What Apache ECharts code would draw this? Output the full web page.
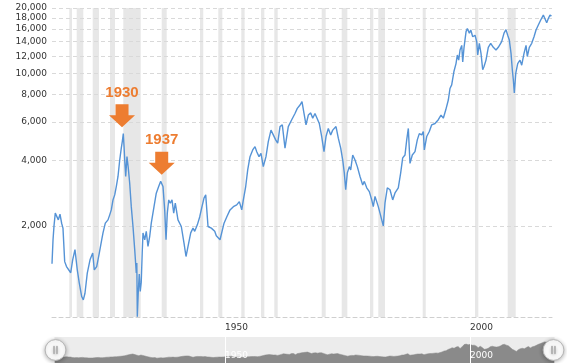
<!DOCTYPE html>
<html><head><meta charset="utf-8">
<script src="https://cdn.jsdelivr.net/npm/echarts@6/dist/echarts.min.js"></script>
<style>html,body{margin:0;padding:0;background:#fff}#chart{width:567px;height:363px}</style>
</head><body><div id="chart"></div>
<script>
// Inflation-adjusted Dow Jones
const years = [
1914.69,1914.9,1915.1,1915.36,1915.65,1915.98,1916.32,1916.67,1916.93,1917.28,1917.65,1918.02,1918.51,1918.91,1919.38,1919.85,
1920.26,1920.75,1921.08,1921.42,1921.89,1922.45,1923.0,1923.32,1923.81,1924.34,1924.83,1925.1,1925.57,1926.12,1926.47,1926.79,
1927.14,1927.49,1927.81,1928.16,1928.51,1928.83,1929.05,1929.24,1929.4,1929.53,1929.73,1929.99,1930.25,1930.55,1930.87,1931.22,
1931.57,1931.89,1932.0,1932.1,1932.3,1932.5,1932.7,1932.9,1933.1,1933.26,1933.61,1933.93,1934.28,1934.63,1934.95,1935.51,
1935.97,1936.46,1936.87,1937.34,1937.69,1937.96,1938.22,1938.51,1938.83,1939.18,1939.53,1939.85,1940.4,1941.08,1941.63,1942.04,
1942.45,1943.0,1943.47,1943.82,1944.35,1944.83,1945.3,1945.71,1946.06,1946.53,1947.2,1947.9,1948.22,1948.98,1949.33,1949.8,
1950.35,1951.02,1951.7,1952.39,1952.92,1953.41,1953.74,1954.22,1954.63,1955.1,1955.65,1956.12,1956.47,1956.94,1957.34,1957.81,
1958.36,1958.83,1959.38,1959.85,1960.34,1960.75,1961.22,1961.69,1962.24,1962.91,1963.61,1964.28,1964.75,1965.3,1965.71,1966.12,
1966.53,1967.0,1967.49,1967.9,1968.36,1968.71,1969.24,1969.73,1970.2,1970.61,1971.08,1971.57,1971.98,1972.65,1973.12,1973.61,
1974.02,1974.34,1974.63,1974.96,1975.37,1975.65,1976.06,1976.53,1977.0,1977.55,1978.1,1978.43,1978.92,1979.45,1979.94,1980.26,
1980.61,1980.96,1981.28,1981.63,1981.98,1982.3,1982.65,1983.12,1983.67,1984.22,1984.69,1985.36,1985.85,1986.26,1986.73,1987.08,
1987.41,1987.75,1988.22,1988.77,1989.24,1989.65,1990.14,1990.47,1990.67,1991.16,1991.69,1992.18,1992.85,1993.53,1994.08,1994.55,
1995.04,1995.57,1995.91,1996.26,1996.73,1997.14,1997.41,1997.69,1997.96,1998.31,1998.51,1998.78,1999.19,1999.45,1999.86,2000.15,
2000.55,2001.02,2001.37,2001.57,2001.9,2002.24,2002.59,2002.86,2003.26,2003.73,2004.22,2004.75,2005.3,2005.77,2006.46,2006.94,
2007.34,2007.69,2008.02,2008.37,2008.63,2008.84,2009.04,2009.33,2009.73,2010.2,2010.55,2011.02,2011.43,2011.69,2012.1,2012.59,
2013.06,2013.47,2013.94,2014.43,2014.96,2015.31,2015.65,2015.98,2016.32,2016.63
];
const realDow = [
1340,1726,2000,2287,2300,2130,2262,2050,1952,1370,1300,1326,1218,1396,1555,1256,
1092,947,915,981,1214,1396,1500,1256,1300,1500,1726,1856,2057,2130,2246,2367,
2631,2774,3030,3370,4012,4550,4900,5300,4600,4010,3370,4156,3700,3130,2450,1986,
1555,1214,1350,765,1000,1200,1000,1100,1500,1856,1726,1887,1609,1787,2057,2450,
2825,3030,3200,3030,2367,1726,2287,2630,2540,2630,2287,2540,2130,1986,1666,1446,
1609,1856,1952,1887,2021,2197,2450,2680,2774,1986,1952,1887,1800,1726,1694,2057,
2197,2367,2450,2496,2583,2367,2631,3030,3612,4156,4460,4620,4380,4156,4300,3740,
4156,4870,5500,5230,4960,4790,5710,5820,4550,5710,6140,6560,6920,7170,7430,6560,
5820,6450,6600,6240,6560,6600,5900,5140,4380,5140,5600,5230,5500,5710,5050,4550,
4010,3500,2930,3500,3740,3612,4230,4010,3740,3370,3080,3200,2990,2870,2630,2450,
2730,2774,2450,2287,2130,2000,2550,2990,2930,2630,2830,2990,3500,4100,4230,4960,
5600,3870,4230,4380,4960,5300,5230,5420,4460,5140,5420,5820,5900,6140,6450,6240,
6800,7560,8540,8870,10250,11110,12170,11530,12830,13470,11300,13200,15580,16100,15330,15840,
14760,15000,14010,12170,13770,12380,10410,10770,11530,13200,13770,13200,12830,13200,14010,15330,
15910,15000,14250,12380,10410,9340,8140,10010,11110,11530,10930,12380,13470,11980,13200,13770,
14760,15840,16710,17610,18560,18250,17100,17900,18560,18400
];
const yTicks = [2000, 4000, 6000, 8000, 10000, 12000, 14000, 16000, 18000, 20000];
const xTicks = [1950, 2000];
const recessionStart = [1918.22,1919.73,1923.0,1926.53,1929.24,1937.08,1944.89,1948.63,1953.32,1957.34,1960.06,1969.73,1973.81,1979.59,1981.28,1990.34,2001.02,2007.69];
const recessionEnd   = [1918.77,1921.08,1924.28,1927.55,1932.79,1938.1,1945.56,1949.45,1954.0,1958.02,1960.75,1970.55,1974.96,1980.26,1982.65,1990.96,2001.7,2009.32];
const calloutLabels = ['1930', '1937'];
const calloutYears = [1928.98, 1937.08];
const calloutValues = [5670, 3430];

const X_MIN = 1914.69, X_MAX = 2016.73;
const chart = echarts.init(document.getElementById('chart'), null, {renderer: 'canvas'});
const FONT = 'DejaVu Sans';
const ARROW = 'path://M6.5,0L19.5,0L19.5,11L26,11L13,23L0,11L6.5,11Z';
const HANDLE = 'path://M50,0A50,50,0,1,1,50,100A50,50,0,1,1,50,0Z M41,32L41,68L45,68L45,32Z M55,32L55,68L59,68L59,32Z';

chart.setOption({
  animation: false,
  backgroundColor: '#ffffff',
  grid: [
    {left: 52, right: 15, top: 8, bottom: 46},
    {left: 52, right: 15, top: 337, height: 26}
  ],
  xAxis: [
    {
      type: 'value', min: X_MIN, max: X_MAX,
      axisLine: {show: true, lineStyle: {color: '#cfcfcf', type: [4, 3], width: 1}},
      axisTick: {show: false},
      splitLine: {show: false},
      axisLabel: {customValues: xTicks, align: 'left', color: '#333', fontSize: 9, fontFamily: FONT, margin: 6,
        formatter: v => String(Math.round(v))}
    },
    {
      gridIndex: 1, type: 'value', min: X_MIN, max: X_MAX, z: 10,
      axisLine: {show: false},
      axisTick: {show: true, customValues: xTicks, inside: true, length: 26, lineStyle: {color: '#ffffff', width: 1}},
      splitLine: {show: false},
      axisLabel: {customValues: xTicks, inside: true, align: 'left', color: '#ffffff', fontSize: 9, fontFamily: FONT, margin: 3,
        formatter: v => String(Math.round(v))}
    }
  ],
  yAxis: [
    {type: 'log', min: 763, max: 20000, show: false},
    {gridIndex: 1, type: 'value', show: false}
  ],
  dataZoom: [{
    type: 'slider', xAxisIndex: 0, filterMode: 'none', start: 0, end: 100,
    left: 52, right: 15, top: 337, height: 26,
    showDetail: false, brushSelect: false, moveHandleSize: 0,
    backgroundColor: '#ececec', borderColor: 'transparent', fillerColor: 'rgba(0,0,0,0)',
    dataBackground: {lineStyle: {color: '#8a8a8a', width: 0.5}, areaStyle: {color: '#8a8a8a', opacity: 1}},
    selectedDataBackground: {lineStyle: {color: '#8a8a8a', width: 0.5}, areaStyle: {color: '#8a8a8a', opacity: 1}},
    handleIcon: HANDLE, handleSize: '80%',
    handleStyle: {color: '#ffffff', borderColor: '#b5b5b5', borderWidth: 1, shadowBlur: 4, shadowColor: 'rgba(0,0,0,0.3)', shadowOffsetY: 1},
    moveHandleStyle: {opacity: 0},
    emphasis: {handleStyle: {color: '#ffffff', borderColor: '#b5b5b5'}, moveHandleStyle: {opacity: 0}}
  }],
  series: [{
    type: 'line',
    data: years.map((y, i) => [y, realDow[i]]),
    symbol: 'none', showSymbol: false,
    lineStyle: {color: '#5593d6', width: 1.4},
    z: 2,
    markArea: {
      silent: true, z: 0,
      itemStyle: {color: '#e7e7e7', opacity: 1},
      data: recessionStart.map((s, i) => [{xAxis: s}, {xAxis: recessionEnd[i]}])
    },
    markLine: {
      silent: true, z: 1, symbol: ['none', 'none'],
      lineStyle: {color: '#d9d9d9', type: [4, 3], width: 1},
      label: {position: 'start', distance: 5, color: '#333', fontSize: 9, fontFamily: FONT,
        formatter: p => Number(p.value).toLocaleString('en-US')},
      emphasis: {disabled: true},
      data: yTicks.map(v => ({yAxis: v}))
    },
    markPoint: {
      silent: true,
      symbol: ARROW, symbolSize: [26, 23], symbolOffset: [0, '-50%'],
      itemStyle: {color: '#ED7D31'},
      label: {show: true, position: 'top', distance: 4, color: '#ED7D31', fontSize: 15, fontWeight: 'bold',
        fontFamily: 'Liberation Sans', formatter: p => p.name},
      data: calloutLabels.map((t, i) => ({name: t, coord: [calloutYears[i], calloutValues[i]]}))
    }
  }]
});
</script>
</body></html>
